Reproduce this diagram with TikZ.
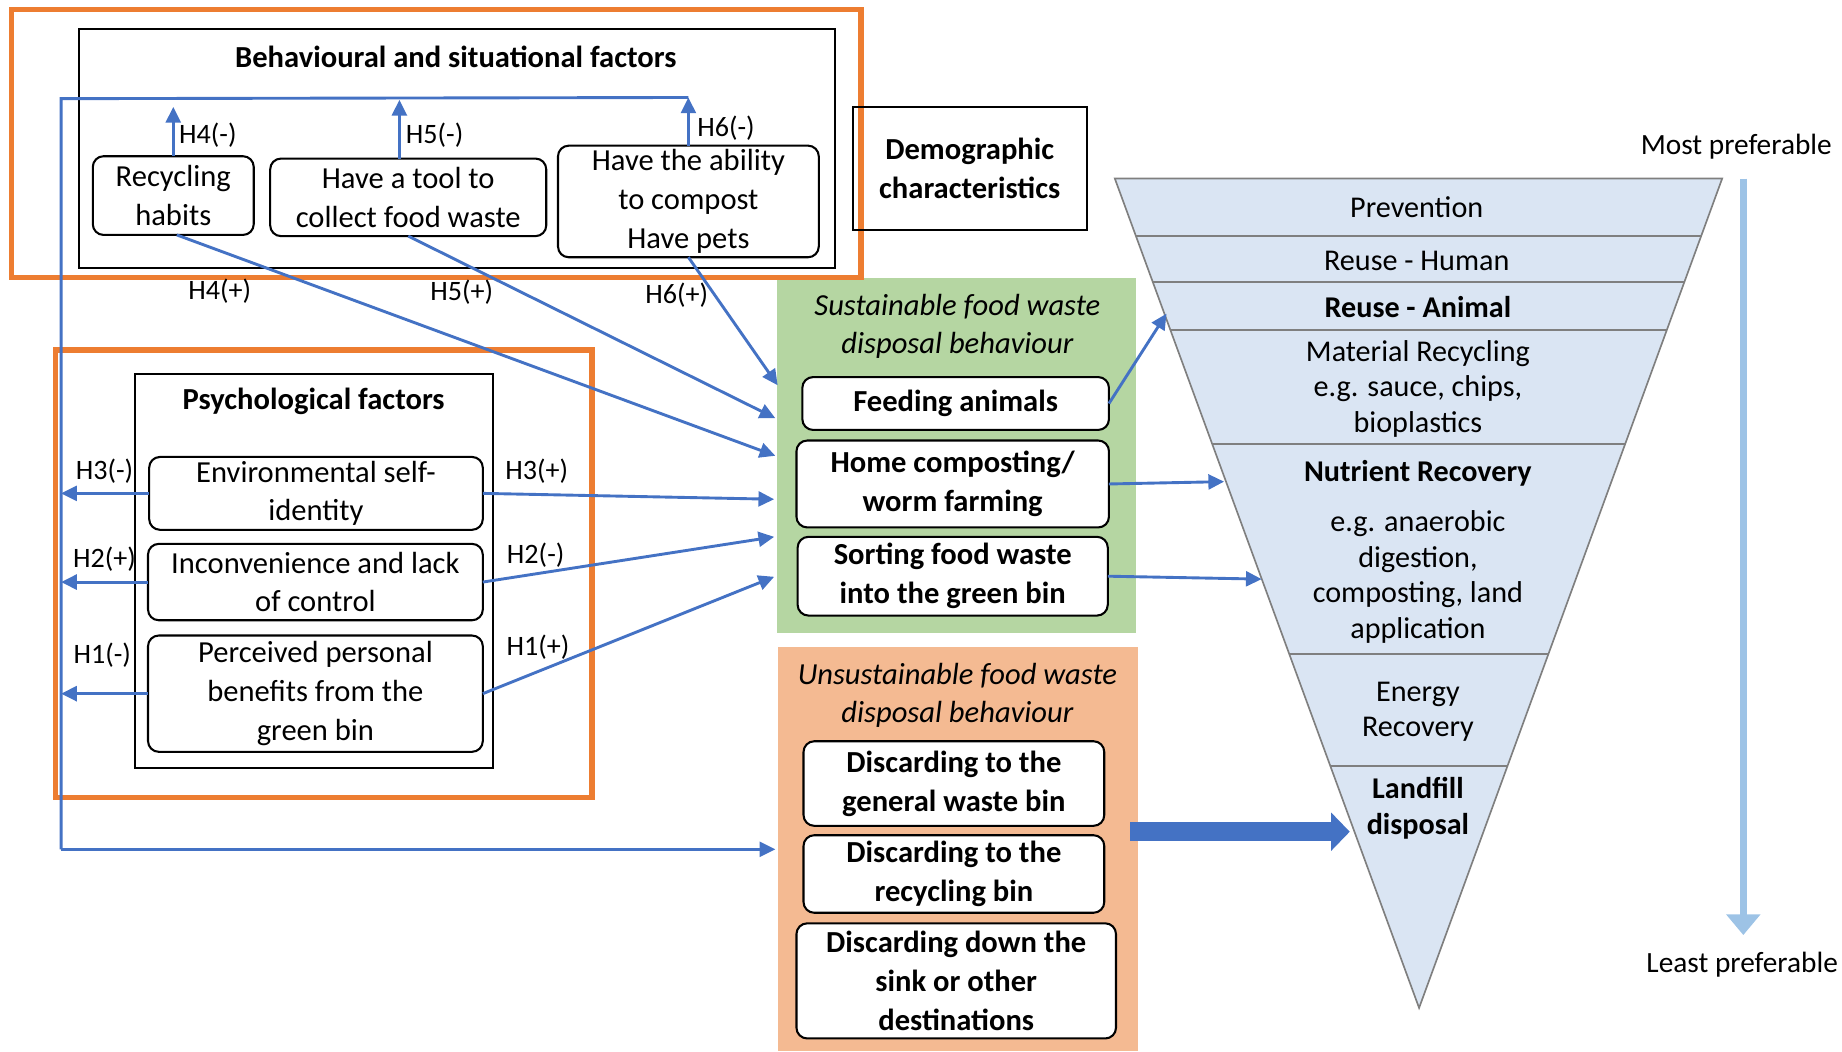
\documentclass[tikz,border=0pt]{standalone}
\usepackage{fontspec}
\setmainfont{Carlito}
\usetikzlibrary{arrows.meta,fit,calc}
\definecolor{lnblue}{HTML}{4472C4}
\definecolor{orng}{HTML}{ED7D31}
\definecolor{grn}{HTML}{B5D6A2}
\definecolor{peach}{HTML}{F4BA92}
\definecolor{hfill}{HTML}{DAE5F3}
\definecolor{hline}{HTML}{7F7F7F}
\definecolor{prefblue}{HTML}{9DC3E6}
\begin{document}
\begin{tikzpicture}[x=0.01cm,y=-0.01cm,
  every node/.style={font=\fontsize{7.4}{9.4}\selectfont, inner sep=0pt, outer sep=0pt},
  rbox/.style={draw=black, line width=0.5pt, rounded corners=2.6pt, fill=white},
  sbox/.style={draw=black, line width=0.5pt},
  txt/.style={align=center},
  btxt/.style={align=center, font=\fontsize{7.4}{9.4}\selectfont\bfseries},
  obox/.style={draw=orng, line width=1.3pt},
  bg/.style={draw=none},
  conn/.style={draw=lnblue, line width=0.7pt, -{Triangle[length=3.8pt,width=3.6pt]}},
  wire/.style={draw=lnblue, line width=0.7pt},
  hlab/.style={font=\fontsize{6.8}{8}\selectfont},
  htext/.style={font=\fontsize{7.3}{8.6}\selectfont, align=center},
  hbold/.style={font=\fontsize{7.3}{8.8}\selectfont\bfseries, align=center},
  btitle/.style={font=\fontsize{7.4}{9.4}\selectfont\bfseries},
  ititle/.style={font=\fontsize{7.4}{9.3}\selectfont\itshape, align=center},
  pref/.style={font=\fontsize{7.1}{8.6}\selectfont}
]
\useasboundingbox (0,0) rectangle (1568,895);

% backgrounds
\node[bg, fill=grn, fit={(661,237)(967,539)}] (sus) {};
\node[bg, fill=peach, fit={(662,551)(969,895)}] (uns) {};

% behavioural block
\node[sbox, fit={(67,25)(711,228)}] (beh) {};
\node[btitle] (behT) at (388,48) {Behavioural and situational factors};
\node[rbox, fit={(79,133)(216,200)}] (rec) {};
\node[txt] (recT) at (rec.center) {Recycling\\habits};
\node[rbox, fit={(230,135)(465,201)}] (tool) {};
\node[txt] (toolT) at (tool.center) {Have a tool to\\collect food waste};
\node[rbox, fit={(475,124)(697,219)}] (abil) {};
\node[txt] (abilT) at (abil.center) {Have the ability\\to compost\\Have pets};
\node[obox, fit={(10,8)(733,236)}] (or1) {};

% demographic
\node[sbox, fit={(726,91)(925,196)}] (demo) {};
\node[btxt] (demoT) at (demo.center) {Demographic\\characteristics};

% psychological block
\node[sbox, fit={(115,318)(420,654)}] (psy) {};
\node[btitle] (psyT) at (267,342) {Psychological factors};
\node[rbox, fit={(127,389)(411,451)}] (env) {};
\node[txt] (envT) at (env.center) {Environmental self-\\identity};
\node[rbox, fit={(126,463)(411,528)}] (inc) {};
\node[txt] (incT) at (inc.center) {Inconvenience and lack\\of control};
\node[rbox, fit={(126,541)(411,640)}] (per) {};
\node[txt] (perT) at (per.center) {Perceived personal\\benefits from the\\green bin};
\node[obox, fit={(47,298)(504,679)}] (or2) {};

% sustainable
\node[ititle] (susT) at (815,278) {Sustainable food waste\\disposal behaviour};
\node[rbox, fit={(683,321)(944,366)}] (feed) {};
\node[btxt] (feedT) at (feed.center) {Feeding animals};
\node[rbox, fit={(678,375)(944,449)}] (home) {};
\node[btxt] (homeT) at (home.center) {Home composting/\\worm farming};
\node[rbox, fit={(679,457)(943,524)}] (sort) {};
\node[btxt] (sortT) at (sort.center) {Sorting food waste\\into the green bin};

% unsustainable
\node[ititle] (unsT) at (815,592) {Unsustainable food waste\\disposal behaviour};
\node[rbox, fit={(684,631)(940,703)}] (gen) {};
\node[btxt] (genT) at (gen.center) {Discarding to the\\general waste bin};
\node[rbox, fit={(684,711)(940,777)}] (recb) {};
\node[btxt] (recbT) at (recb.center) {Discarding to the\\recycling bin};
\node[rbox, fit={(678,786)(950,884)}] (sink) {};
\node[btxt] (sinkT) at (sink.center) {Discarding down the\\sink or other\\destinations};

% hierarchy
\coordinate (tl) at (949,152);
\coordinate (tr) at (1466,152);
\coordinate (apex) at (1208,858);
\fill[hfill] (tl) -- (tr) -- (apex) -- cycle;
\draw[hline, line width=0.4pt] (tl) -- (tr) -- (apex) -- cycle;
\foreach \t in {0.0694,0.1246,0.1827,0.3201,0.5737,0.7082}
  \draw[hline, line width=0.5pt] ($(tl)!\t!(apex)$) -- ($(tr)!\t!(apex)$);
\node[htext] (hPrev) at (1206,176) {Prevention};
\node[htext] (hRH) at (1206,222) {Reuse - Human};
\node[hbold] (hRA) at (1207,261) {Reuse - Animal};
\node[htext] (hMat) at (1207,331) {Material Recycling\\e.g. sauce, chips,\\bioplastics};
\node[hbold] (hNut) at (1207,403) {Nutrient Recovery};
\node[htext] (hNut2) at (1207,491) {e.g. anaerobic\\digestion,\\composting, land\\application};
\node[htext] (hEn) at (1207,606) {Energy\\Recovery};
\node[hbold] (hLand) at (1207,688) {Landfill\\disposal};

% preference scale
\node[pref] (most) at (1478,125) {Most preferable};
\node[pref] (least) at (1483,821) {Least preferable};
\coordinate (pTop) at (1484,152);
\coordinate (pBot) at (1484,796);
\draw[prefblue, line width=1.7pt, -{Triangle[length=5pt,width=8pt]}] (pTop) -- (pBot);

% bus line
\coordinate (busTL) at (52,84);
\coordinate (busTR) at (586,83);
\coordinate (busBL) at (52,723);
\coordinate (busEnd) at (660,723);
\draw[wire] (busTR) -- (busTL) -- (busBL);
\draw[conn] (busBL) -- (busEnd);

% upward arrows (negative)
\coordinate (u4) at (147.5,91);
\coordinate (u5) at (340,85);
\draw[conn] (rec.north) -- (u4);
\draw[conn] ($(tool.north)+(-7.5,0)$) -- (u5);
\draw[conn] (abil.north) -- (busTR);
\node[hlab] (lH4m) at (177,115) {H4(-)};
\node[hlab] (lH5m) at (370,115) {H5(-)};
\node[hlab] (lH6m) at (618,109) {H6(-)};

% downward arrows (positive)
\coordinate (t6) at (662,328);
\coordinate (t5) at (660,356);
\coordinate (t4) at (660,388);
\coordinate (t3) at (659,425);
\coordinate (t2) at (659,457);
\coordinate (t1) at (659,491);
\draw[conn] ($(rec.south)+(3,0)$) -- (t4);
\draw[conn] (tool.south) -- (t5);
\draw[conn] (abil.south) -- (t6);
\node[hlab] (lH4p) at (187,248) {H4(+)};
\node[hlab] (lH5p) at (393,249) {H5(+)};
\node[hlab] (lH6p) at (576,251) {H6(+)};

% psychological arrows
\draw[conn] (env.east) -- (t3);
\draw[conn] (inc.east) -- (t2);
\draw[conn] (per.east) -- (t1);
\node[hlab] (lH3p) at (457,401) {H3(+)};
\node[hlab] (lH2m) at (456,473) {H2(-)};
\node[hlab] (lH1p) at (458,551) {H1(+)};
\draw[conn] (env.west) -- (env.west -| busTL);
\draw[conn] (inc.west) -- (inc.west -| busTL);
\draw[conn] (per.west) -- (per.west -| busTL);
\node[hlab] (lH3m) at (89,401) {H3(-)};
\node[hlab] (lH2p) at (89,476) {H2(+)};
\node[hlab] (lH1m) at (87,558) {H1(-)};

% to hierarchy
\coordinate (hA) at (993,267);
\coordinate (hB) at (1042,410);
\coordinate (hC) at (1074,493);
\draw[conn] (feed.east) -- (hA);
\draw[conn] (home.east) -- (hB);
\draw[conn] (sort.east) -- (hC);
\coordinate (thS) at (962,708);
\coordinate (thE) at (1149,708);
\draw[lnblue, line width=4.5pt, -{Triangle[length=4.5pt,width=9pt]}] (thS) -- (thE);
\end{tikzpicture}
\end{document}
